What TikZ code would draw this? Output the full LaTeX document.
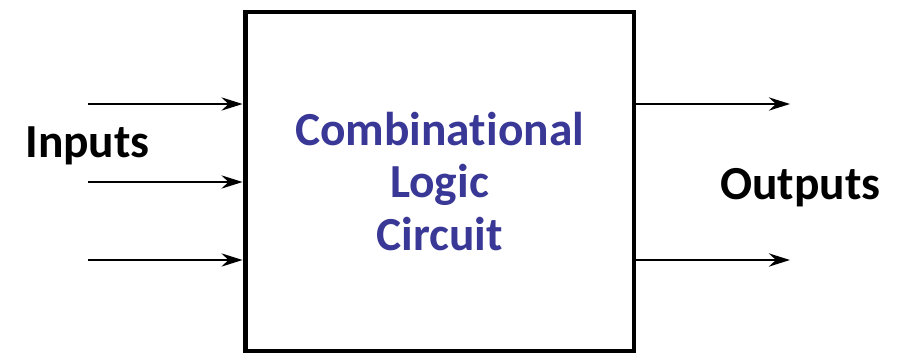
\documentclass[tikz,border=0pt]{standalone}
\usepackage{fontspec}
\setmainfont{Carlito}[Ligatures=NoCommon]
\usepackage{tikz}
\usetikzlibrary{arrows.meta}

\definecolor{circuitblue}{RGB}{58,56,150}

\begin{document}
\begin{tikzpicture}[x=0.02cm, y=-0.02cm,
  signal/.style={-{Stealth[length=12pt, width=7.5pt, inset=4pt]}, line width=1.5pt},
  label/.style={font=\fontsize{27}{30}\selectfont\bfseries, inner sep=0pt}]
\useasboundingbox (0,0) rectangle (902,355);

\node[draw, line width=2.8pt, minimum width=7.78cm, minimum height=6.78cm,
  align=center, text=circuitblue, font=\fontsize{27}{30}\selectfont\bfseries]
  (box) at (439.5,181.5) {Combinational\\Logic\\Circuit};

\coordinate (in1) at (88,104); \coordinate (in2) at (88,182); \coordinate (in3) at (88,260);
\draw[signal] (in1) -- (in1 -| box.west);
\draw[signal] (in2) -- (in2 -| box.west);
\draw[signal] (in3) -- (in3 -| box.west);

\coordinate (out1) at (790,104); \coordinate (out2) at (790,260);
\draw[signal] (out1 -| box.east) -- (out1);
\draw[signal] (out2 -| box.east) -- (out2);

\node[label, anchor=base west] (inputs) at (25,157) {Inputs};
\node[label, anchor=base west] (outputs) at (720,199) {Outputs};

\end{tikzpicture}
\end{document}
